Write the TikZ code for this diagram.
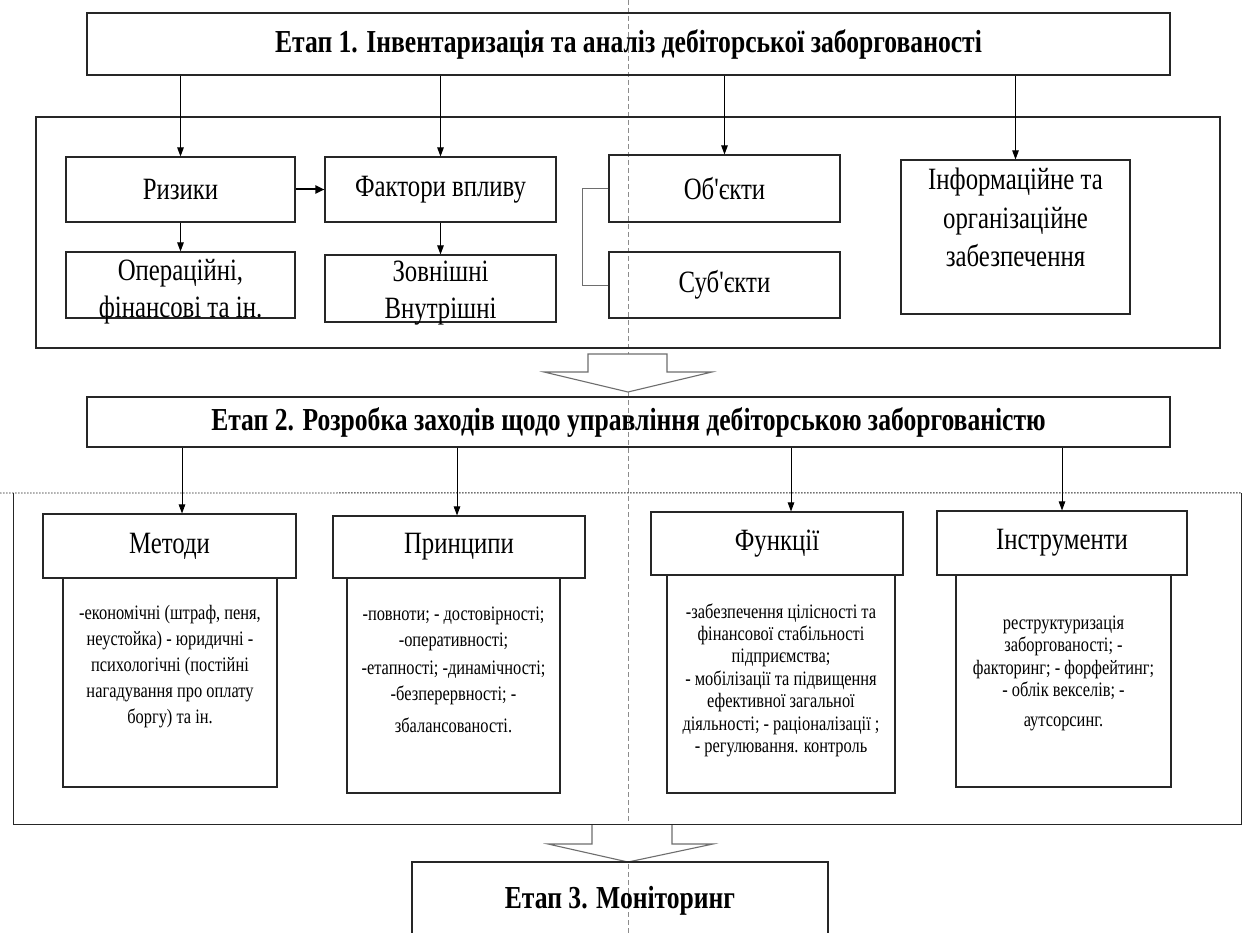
\documentclass[tikz,border=0pt]{standalone}
\usepackage{fontspec}
\setmainfont{Liberation Serif}
\newfontfamily\cond{Liberation Serif}[FakeStretch=0.8]
\usetikzlibrary{arrows.meta}
\definecolor{edge}{HTML}{262626}
\definecolor{soft}{HTML}{6E6E6E}
\newcommand\linesat[1]{\begin{tabular}[t]{@{}c@{}}#1\end{tabular}}
\tikzset{
  box/.style={draw=edge, line width=1.1pt, inner sep=0pt, align=center,
    font=\cond\fontsize{31}{37}\selectfont},
  ttl/.style={box, line width=1.4pt, font=\cond\bfseries\fontsize{32}{36}\selectfont},
  bodytxt/.style={inner sep=0pt, anchor=base},
  bigtxt/.style={inner sep=0pt, anchor=base, font=\cond\fontsize{31}{37}\selectfont},
  arr/.style={draw=black, line width=0.9pt, -{Triangle[length=9pt,width=6.5pt]}},
  thickarr/.style={draw=black, line width=2pt, -{Triangle[length=9pt,width=8pt]}},
  hollow/.style={draw=soft, line width=1.1pt, fill=white, line join=miter},
  guide/.style={draw=black!45, line width=0.6pt, dash pattern=on 5pt off 3pt},
  dotline/.style={draw=edge, line width=0.9pt, dash pattern=on 1.5pt off 1.5pt},
  brk/.style={draw=soft, line width=1pt}
}
% box by corners: [opts]{name}{x1}{y1}{x2}{y2}{text}
\newcommand\bx[7][]{\node[box,#1,minimum width={(#5-#3)*1pt},minimum height={(#6-#4)*1pt}] (#2) at ({(#3+#5)/2},{(#4+#6)/2}) {#7};}
\begin{document}
\begin{tikzpicture}[x=1pt,y=-1pt]
\useasboundingbox (0,0) rectangle (1246,933);
\clip (0,0) rectangle (1246,933);
\fill[white] (0,0) rectangle (1246,933);

% guide line
\coordinate (gtop) at (628,0);
\coordinate (gbot) at (628,933);
\draw[guide] (gtop) -- (gbot);

% ---------- Stage 1 ----------
\bx[ttl]{t1}{87}{13}{1170}{75}{Етап 1. Інвентаризація та аналіз дебіторської заборгованості}
\bx[draw=edge]{g1}{36}{117}{1220}{348}{}

\bx{riz}{66}{157}{295}{222}{Ризики}
\bx{fak}{325}{157}{556}{222}{Фактори впливу}
\bx{oper}{66}{252}{295}{318}{}
\node[bigtxt] (opert) at (180.5,280) {\linesat{Операційні,\\фінансові та ін.}};
\bx{zovn}{325}{255}{556}{322}{}
\node[bigtxt] (zovnt) at (440.5,281) {\linesat{Зовнішні\\Внутрішні}};
\bx{obj}{609}{155}{840}{222}{Об'єкти}
\bx{sub}{609}{252}{840}{318}{Суб'єкти}
\bx{inf}{901}{160}{1130}{314}{}
\node[bigtxt, font=\cond\fontsize{31}{38.5}\selectfont] (inft) at (1015.5,190) {\linesat{Інформаційне та\\організаційне\\забезпечення}};

\draw[arr] (riz.north |- t1.south) -- (riz.north);
\draw[arr] (fak.north |- t1.south) -- (fak.north);
\draw[arr] (obj.north |- t1.south) -- (obj.north);
\draw[arr] (inf.north |- t1.south) -- (inf.north);
\draw[arr] (riz.south) -- (oper.north);
\draw[arr] (fak.south) -- (zovn.north);
\draw[thickarr] (riz.east) -- (fak.west);
\draw[brk] (obj.west) -- ++(-26,0) |- (sub.west);

% hollow arrow 1
\draw[hollow] (588,354) -- (667,354) -- (667,372) -- (712,372) -- (628,392)
  -- (544,372) -- (588,372) -- cycle;

% ---------- Stage 2 ----------
\bx[ttl]{t2}{87}{397}{1170}{447}{Етап 2. Розробка заходів щодо управління дебіторською заборгованістю}
\node[inner sep=0pt, minimum width=1227pt, minimum height=331pt] (g2) at (627.5,658.5) {};
\coordinate (dl) at (0,493);
\draw[dotline] (dl) -- (g2.north east);
\draw[draw=edge, line width=1.1pt] (g2.north west) |- (g2.south east) -- (g2.north east);

\bx{met}{43}{514}{296}{578}{Методи}
\bx{pri}{333}{516}{585}{578}{Принципи}
\bx{fun}{651}{512}{903}{575}{Функції}
\bx{ins}{937}{511}{1187}{575}{Інструменти}

\bx{metb}{63}{578}{277}{787}{}
\bx{prib}{347}{578}{560}{793}{}
\bx{funb}{667}{575}{895}{793}{}
\bx{insb}{956}{575}{1171}{787}{}

\node[bodytxt, font=\cond\fontsize{20.5}{26}\selectfont] (mett) at (170,619)
  {\linesat{-економічні (штраф, пеня,\\неустойка) - юридичні -\\психологічні (постійні\\нагадування про оплату\\боргу) та ін.}};
\node[bodytxt, font=\cond\fontsize{20.5}{26}\selectfont] (prit) at (453.5,620)
  {\linesat{-повноти; - достовірності;\\-оперативності;\\[2pt]-етапності; -динамічності;\\-безперервності; -\\[6pt]збалансованості.}};
\node[bodytxt, font=\cond\fontsize{20.5}{22.4}\selectfont] (funt) at (781,618)
  {\linesat{-забезпечення цілісності та\\фінансової стабільності\\підприємства;\\- мобілізації та підвищення\\ефективної загальної\\діяльності; - раціоналізації ;\\- регулювання. контроль}};
\node[bodytxt, font=\cond\fontsize{20.5}{22.5}\selectfont] (inst) at (1063.5,629)
  {\linesat{реструктуризація\\заборгованості; -\\факторинг; - форфейтинг;\\- облік векселів; -\\[7pt]аутсорсинг.}};

\draw[arr] ([xshift=12.5pt]met.north |- t2.south) -- ([xshift=12.5pt]met.north);
\draw[arr] ([xshift=-2pt]pri.north |- t2.south) -- ([xshift=-2pt]pri.north);
\draw[arr] ([xshift=14pt]fun.north |- t2.south) -- ([xshift=14pt]fun.north);
\draw[arr] (ins.north |- t2.south) -- (ins.north);

% hollow arrow 2
\draw[hollow] (592,825) -- (592,844) -- (548,844) -- (628,862) -- (713,844)
  -- (672,844) -- (672,825);

% ---------- Stage 3 ----------
\bx[ttl]{t3}{412}{862}{828}{940}{Етап 3. Моніторинг}
\end{tikzpicture}
\end{document}
